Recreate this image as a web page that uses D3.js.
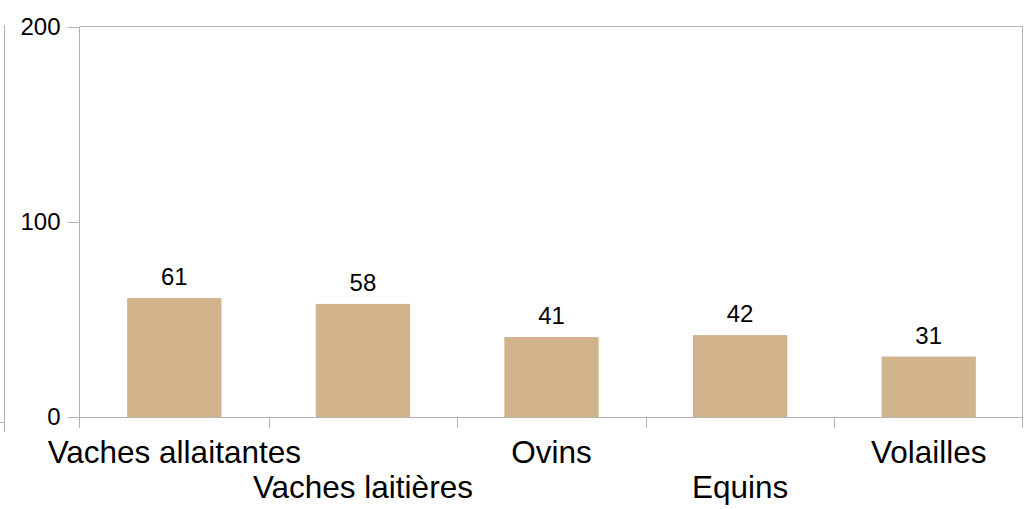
<!DOCTYPE html>
<html>
<head>
<meta charset="utf-8">
<script src="https://cdn.jsdelivr.net/npm/d3@7"></script>
<style>
  html, body { margin: 0; padding: 0; background: #fff; }
  svg { display: block; font-family: "Liberation Sans", Arial, sans-serif; }
</style>
</head>
<body>
<svg id="chart" width="1034" height="509"></svg>
<script>
// Cheptel par catégorie
const categories = ["Vaches allaitantes", "Vaches laitières", "Ovins", "Equins", "Volailles"];
const values = [61, 58, 41, 42, 31];
const yTicks = [0, 100, 200];

const svg = d3.select("#chart");
const margin = { left: 80, right: 11, top: 27, bottom: 92 };
const W = 1034, H = 509;
const x0 = margin.left, x1 = W - margin.right;
const y0 = H - margin.bottom, y1 = margin.top;
const axisColor = "#b3b3b3";

const x = d3.scaleBand().domain(categories).range([x0, x1]).paddingInner(0.5).paddingOuter(0.25);
const xOuter = d3.scaleBand().domain(categories).range([x0, x1]);
const y = d3.scaleLinear().domain([0, 200]).range([y0, y1]);

// stray frame edge on the far left
svg.append("line").attr("x1", 4.5).attr("x2", 4.5).attr("y1", 25).attr("y2", 432)
  .attr("stroke", axisColor).attr("stroke-width", 1);
svg.append("line").attr("x1", 0).attr("x2", 4.5).attr("y1", 422.5).attr("y2", 422.5)
  .attr("stroke", axisColor).attr("stroke-width", 1);

// bars
svg.append("g").selectAll("rect").data(values).join("rect")
  .attr("x", (d, i) => x(categories[i]))
  .attr("width", x.bandwidth())
  .attr("y", d => y(d))
  .attr("height", d => y(0) - y(d))
  .attr("fill", "#d2b48c");

// frame: top and right
svg.append("line").attr("x1", x0).attr("x2", x1).attr("y1", y1 - 0.5).attr("y2", y1 - 0.5)
  .attr("stroke", axisColor);
svg.append("line").attr("x1", x1 - 0.5).attr("x2", x1 - 0.5).attr("y1", y1 - 0.5).attr("y2", y0 + 11)
  .attr("stroke", axisColor);

// y axis
const yAxis = svg.append("g").attr("transform", `translate(${x0 - 0.5},0)`)
  .call(d3.axisLeft(y).tickValues(yTicks).tickSize(12).tickPadding(7).tickFormat(d3.format("d")));
yAxis.select(".domain").remove();
yAxis.selectAll(".tick line").attr("stroke", axisColor);
yAxis.selectAll(".tick text").attr("font-size", 24).attr("fill", "#000")
  .attr("font-family", "Liberation Sans, Arial, sans-serif");
svg.append("line").attr("x1", x0 - 0.5).attr("x2", x0 - 0.5).attr("y1", y1 - 0.5).attr("y2", y0 + 11)
  .attr("stroke", axisColor);

// x axis baseline and category separators
svg.append("line").attr("x1", x0).attr("x2", x1).attr("y1", y0 + 0.5).attr("y2", y0 + 0.5)
  .attr("stroke", axisColor);
svg.append("g").selectAll("line").data(categories.slice(1)).join("line")
  .attr("x1", d => Math.round(xOuter(d)) + 0.5).attr("x2", d => Math.round(xOuter(d)) + 0.5)
  .attr("y1", y0).attr("y2", y0 + 11)
  .attr("stroke", axisColor);

// category labels, staggered on two rows
svg.append("g").selectAll("text").data(categories).join("text")
  .attr("x", d => xOuter(d) + xOuter.bandwidth() / 2)
  .attr("y", (d, i) => i % 2 === 0 ? 463 : 498)
  .attr("text-anchor", "middle")
  .attr("font-size", 31.5)
  .attr("fill", "#000")
  .text(d => d);

// value labels
svg.append("g").selectAll("text").data(values).join("text")
  .attr("x", (d, i) => x(categories[i]) + x.bandwidth() / 2)
  .attr("y", d => y(d) - 13)
  .attr("text-anchor", "middle")
  .attr("font-size", 24)
  .attr("fill", "#000")
  .text(d => d);
</script>
</body>
</html>
